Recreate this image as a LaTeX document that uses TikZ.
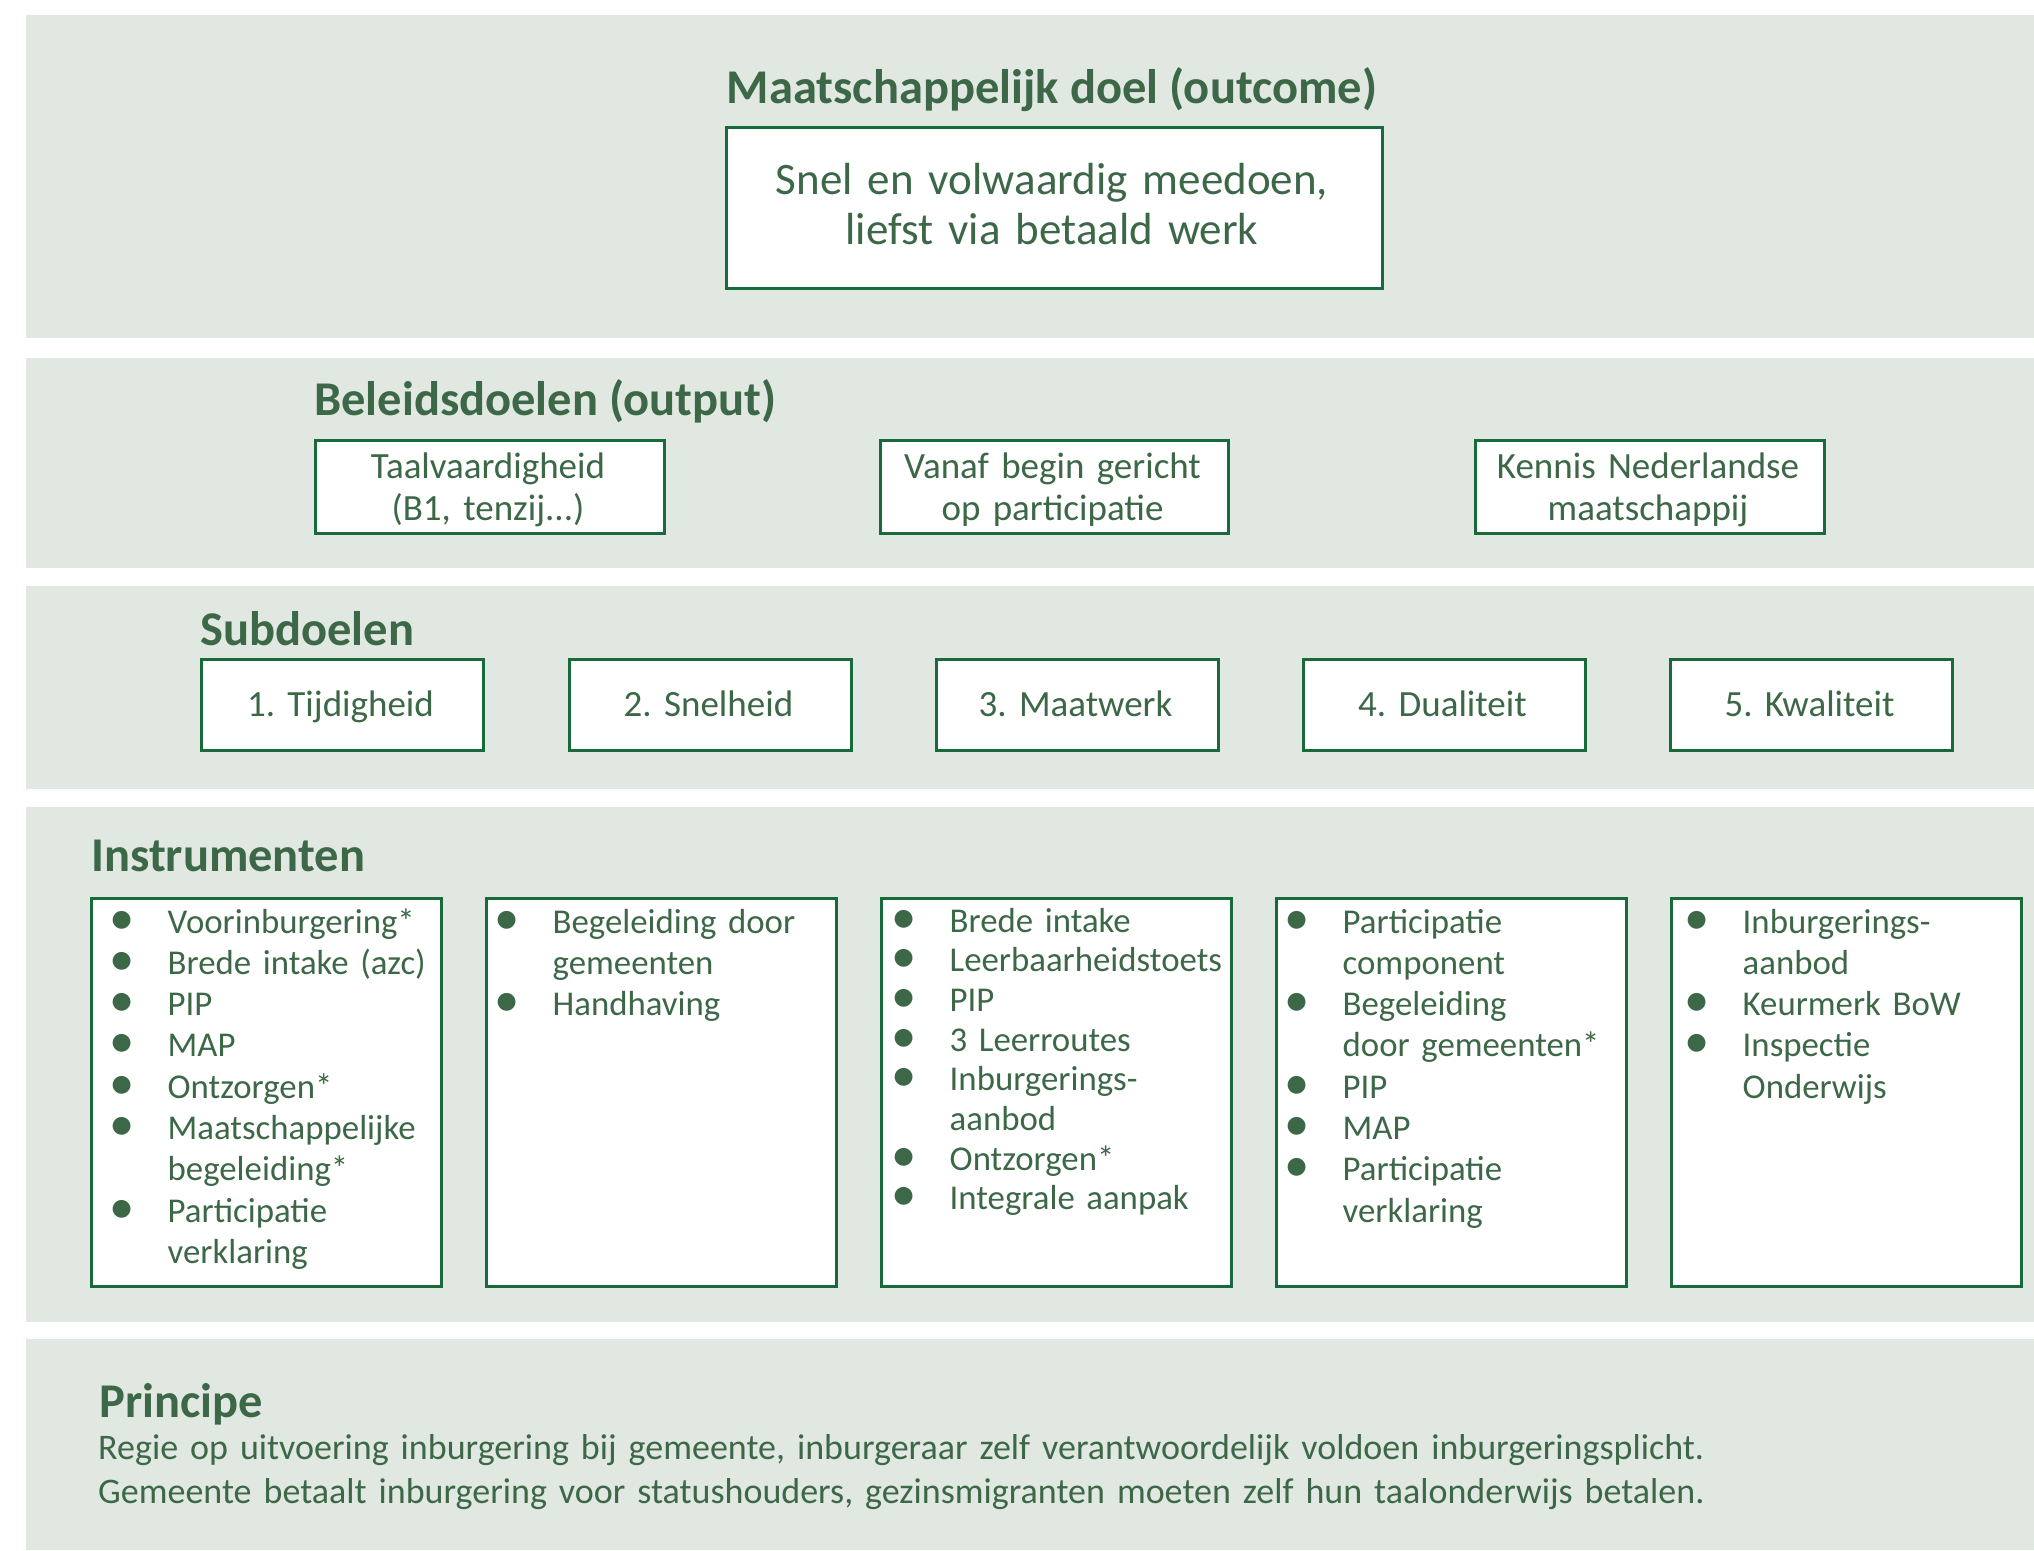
\documentclass[tikz,border=0pt]{standalone}
\usepackage{fontspec}
\usepackage{graphicx}
\setmainfont{Carlito}
\definecolor{bandbg}{RGB}{225,232,225}
\definecolor{txt}{RGB}{61,104,72}
\definecolor{boxline}{RGB}{24,106,58}
\newcommand{\bl}[1]{\makebox[0pt]{\raisebox{-1pt}{\scalebox{1.45}{•}}}\hspace{45.5pt}#1}
\newcommand{\cl}[1]{\hspace*{45.5pt}#1}
\frenchspacing
\begin{document}
\frenchspacing
\begin{tikzpicture}[x=1pt,y=-1pt,
  band/.style={fill=bandbg},
  box/.style={draw=boxline, line width=3pt, fill=white, inner sep=0pt, anchor=north west},
  hd/.style={font=\fontsize{48.5}{52}\selectfont\bfseries\frenchspacing, text=txt, inner sep=0pt, anchor=base west},
  body/.style={font=\fontsize{34.8}{41.3}\selectfont\frenchspacing, text=txt, inner sep=0pt},
  ctext/.style={body, font=\fontsize{37}{42}\selectfont\frenchspacing, anchor=base, align=center, text width=340pt},
  list/.style={body, anchor=base west, align=left, text width=330pt},
]
\useasboundingbox (0,0) rectangle (2034,1550);
\fill[white] (0,0) rectangle (2034,1550);
% bands
\path[band] (26,15) rectangle (2034,338);
\path[band] (26,358) rectangle (2034,568);
\path[band] (26,586) rectangle (2034,789);
\path[band] (26,807) rectangle (2034,1322);
\path[band] (26,1339) rectangle (2034,1550);

% outcome
\node[hd, anchor=base] (title) at (1052,103) {Maatschappelijk doel (outcome)};
\node[box, minimum width=656pt, minimum height=161pt] (outbox) at (724.5,125.5) {};
\node[body, font=\fontsize{45}{50}\selectfont\frenchspacing, anchor=base, align=center, text width=640pt] (outtxt) at (1052,194)
  {Snel en volwaardig meedoen,\\liefst via betaald werk};

% beleidsdoelen
\node[hd] (hbel) at (314,415) {Beleidsdoelen (output)};
\node[box, minimum width=349pt, minimum height=93pt] (bel1) at (313.5,438.5) {};
\node[box, minimum width=348pt, minimum height=93pt] (bel2) at (878.5,438.5) {};
\node[box, minimum width=349pt, minimum height=93pt] (bel3) at (1473.5,438.5) {};
\node[ctext] (bel1t) at (488,478) {Taalvaardigheid\\(B1, tenzij...)};
\node[ctext] (bel2t) at (1052.5,478) {Vanaf begin gericht\\op participatie};
\node[ctext] (bel3t) at (1648,478) {Kennis Nederlandse\\maatschappij};

% subdoelen
\node[hd] (hsub) at (200,645) {Subdoelen};
\node[box, minimum width=282pt, minimum height=91pt] (sub1) at (199.5,657.5) {};
\node[box, minimum width=282pt, minimum height=91pt] (sub2) at (567.5,657.5) {};
\node[box, minimum width=282pt, minimum height=91pt] (sub3) at (934.5,657.5) {};
\node[box, minimum width=282pt, minimum height=91pt] (sub4) at (1301.5,657.5) {};
\node[box, minimum width=282pt, minimum height=91pt] (sub5) at (1668.5,657.5) {};
\node[ctext] (sub1t) at (340.5,716) {1. Tijdigheid};
\node[ctext] (sub2t) at (708.5,716) {2. Snelheid};
\node[ctext] (sub3t) at (1075.5,716) {3. Maatwerk};
\node[ctext] (sub4t) at (1442.5,716) {4. Dualiteit};
\node[ctext] (sub5t) at (1809.5,716) {5. Kwaliteit};

% instrumenten
\node[hd] (hins) at (91,871) {Instrumenten};
\node[box, minimum width=350pt, minimum height=388pt] (ins1) at (89.5,896.5) {};
\node[box, minimum width=350pt, minimum height=388pt] (ins2) at (484.5,896.5) {};
\node[box, minimum width=350pt, minimum height=388pt] (ins3) at (879.5,896.5) {};
\node[box, minimum width=350pt, minimum height=388pt] (ins4) at (1274.5,896.5) {};
\node[box, minimum width=350pt, minimum height=388pt] (ins5) at (1669.5,896.5) {};
\node[list] (l1) at (122,933) {\bl{Voorinburgering*}\\\bl{Brede intake (azc)}\\\bl{PIP}\\\bl{MAP}\\\bl{Ontzorgen*}\\\bl{Maatschappelijke}\\\cl{begeleiding*}\\\bl{Participatie}\\\cl{verklaring}};
\node[list] (l2) at (507,933) {\bl{Begeleiding door}\\\cl{gemeenten}\\\bl{Handhaving}};
\node[list, font=\fontsize{34.8}{39.7}\selectfont\frenchspacing] (l3) at (904,932) {\bl{Brede intake}\\\bl{Leerbaarheidstoets}\\\bl{PIP}\\\bl{3 Leerroutes}\\\bl{Inburgerings-}\\\cl{aanbod}\\\bl{Ontzorgen*}\\\bl{Integrale aanpak}};
\node[list] (l4) at (1297,933) {\bl{Participatie}\\\cl{component}\\\bl{Begeleiding}\\\cl{door gemeenten*}\\\bl{PIP}\\\bl{MAP}\\\bl{Participatie}\\\cl{verklaring}};
\node[list] (l5) at (1697,933) {\bl{Inburgerings-}\\\cl{aanbod}\\\bl{Keurmerk BoW}\\\bl{Inspectie}\\\cl{Onderwijs}};

% principe
\node[hd] (hpri) at (99,1417) {Principe};
\node[body, font=\fontsize{36}{44}\selectfont\frenchspacing, anchor=base west, align=left, text width=1900pt] (pri) at (98,1459)
  {Regie op uitvoering inburgering bij gemeente, inburgeraar zelf verantwoordelijk voldoen inburgeringsplicht.\\Gemeente betaalt inburgering voor statushouders, gezinsmigranten moeten zelf hun taalonderwijs betalen.};
\end{tikzpicture}
\end{document}
